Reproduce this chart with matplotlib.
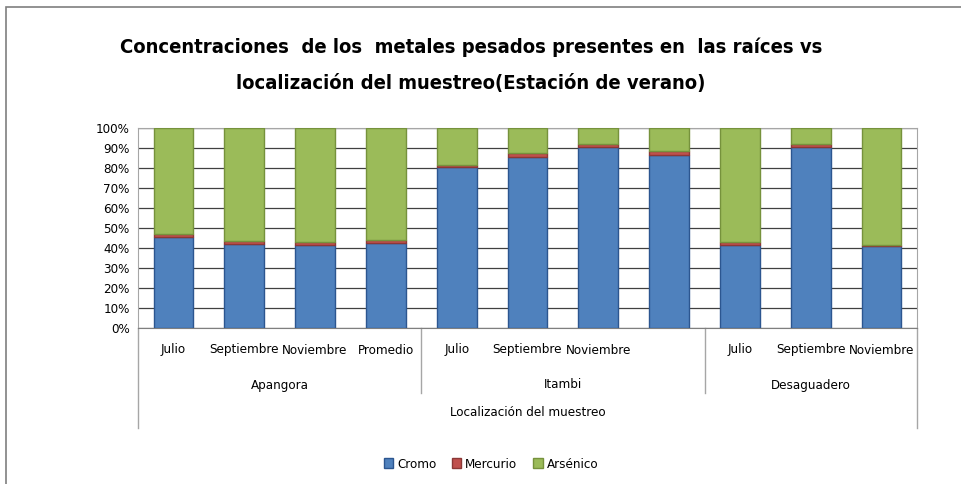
import matplotlib
matplotlib.use('Agg')
import matplotlib.pyplot as plt
import numpy as np
from matplotlib.patches import Rectangle, Patch

meses = ['Julio', 'Septiembre', 'Noviembre', 'Promedio',
         'Julio', 'Septiembre', 'Noviembre', '',
         'Julio', 'Septiembre', 'Noviembre']
grupos = ['Apangora', 'Itambi', 'Desaguadero']
cromo = [45.5, 41.8, 41.5, 42.5, 80.3, 85.7, 90.3, 86.7, 41.3, 90.3, 41.0]
mercurio = [1.5, 1.5, 1.5, 1.5, 1.4, 1.6, 1.9, 1.8, 1.8, 1.9, 0.6]
arsenico = [100 - c - m for c, m in zip(cromo, mercurio)]

plt.rcParams['font.family'] = ['DejaVu Sans']
plt.rcParams['font.stretch'] = 'condensed'

W, H = 962, 484
fig = plt.figure(figsize=(W / 100, H / 100), dpi=100)
fig.patches.append(Rectangle((6 / W, -0.1), 1.2, (H - 7) / H + 0.1, transform=fig.transFigure,
                             fill=False, edgecolor='#7f7f7f', lw=1.2))

ax = fig.add_axes([138 / W, (H - 328) / H, (917 - 138) / W, 200 / H])
x = np.arange(len(meses))
w = 0.56
ax.bar(x, cromo, w, color='#4F81BD', edgecolor='#2C5690', lw=1, zorder=3)
ax.bar(x, mercurio, w, bottom=cromo, color='#C0504D', edgecolor='#8C3836', lw=1, zorder=3)
bot = [c + m for c, m in zip(cromo, mercurio)]
ax.bar(x, arsenico, w, bottom=bot, color='#9BBB59', edgecolor='#76923C', lw=1, zorder=3)

ax.set_xlim(-0.5, len(meses) - 0.5)
ax.set_ylim(0, 100)
ax.set_yticks(np.arange(0, 101, 10))
ax.set_yticklabels([f'{v}%' for v in range(0, 101, 10)], fontsize=9.5)
ax.tick_params(axis='y', length=0, pad=6)
ax.set_xticks([])
ax.grid(axis='y', color='#404040', lw=0.9, zorder=0)
for s in ['top', 'right', 'left']:
    ax.spines[s].set_color('#a6a6a6')
ax.spines['bottom'].set_color('#7f7f7f')

fs = 9.5
tr = ax.get_xaxis_transform()
for i, m in enumerate(meses):
    ax.text(i, -0.11, m, transform=tr, ha='center', va='center', fontsize=fs)
for i, g in enumerate(grupos):
    cx = [1.5, 5.5, 9][i]
    ax.text(cx, -0.285, g, transform=tr, ha='center', va='center', fontsize=fs)
ax.text(5, -0.425, 'Localización del muestreo', transform=tr, ha='center', va='center', fontsize=fs)
for xd in [3.5, 7.5]:
    ax.plot([xd, xd], [0, -0.325], transform=tr, color='#a6a6a6', lw=1, clip_on=False)
for xd in [-0.5, 10.5]:
    ax.plot([xd, xd], [0, -0.5], transform=tr, color='#a6a6a6', lw=1, clip_on=False)

fig.text(471 / W, 1 - 47 / H, 'Concentraciones  de los  metales pesados presentes en  las raíces vs',
         ha='center', va='center', fontsize=14.5, fontweight='bold')
fig.text(471 / W, 1 - 84 / H, 'localización del muestreo(Estación de verano)',
         ha='center', va='center', fontsize=14.5, fontweight='bold')

handles = [Patch(facecolor='#4F81BD', edgecolor='#2C5690'),
           Patch(facecolor='#C0504D', edgecolor='#8C3836'),
           Patch(facecolor='#9BBB59', edgecolor='#76923C')]
fig.legend(handles, ['Cromo', 'Mercurio', 'Arsénico'], loc='center', bbox_to_anchor=(491 / W, 1 - 464 / H),
           ncol=3, frameon=False, fontsize=fs, handlelength=0.7, handleheight=0.7,
           handletextpad=0.3, columnspacing=1.2)

fig.savefig('out.png', dpi=100)
